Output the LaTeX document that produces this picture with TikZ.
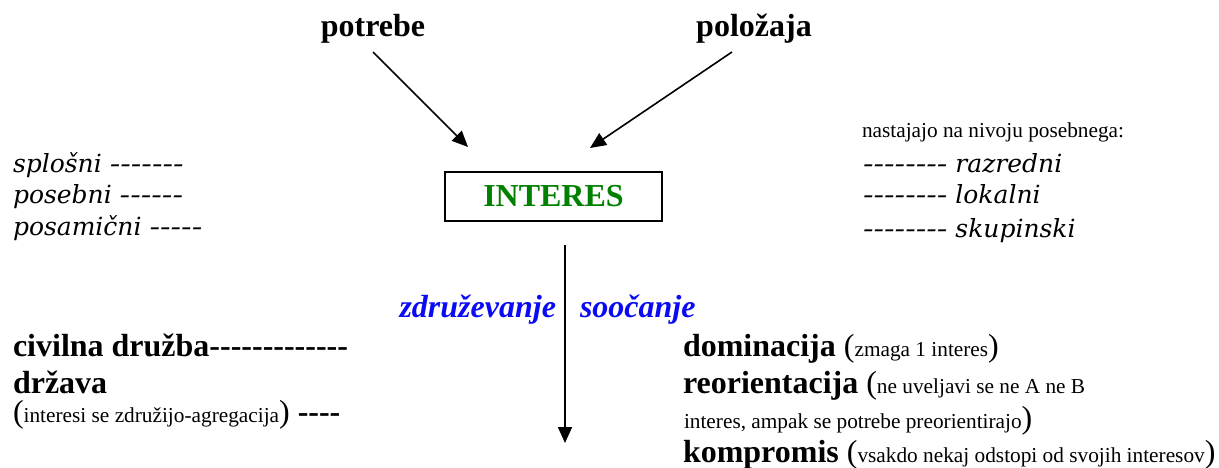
\documentclass[tikz,border=0pt]{standalone}
\usepackage{fontspec}
\setmainfont{Liberation Serif}[Ligatures=TeXOff]
\newfontfamily\dvs{DejaVu Serif}[Ligatures=TeXOff]
\usetikzlibrary{arrows.meta}
\definecolor{intgreen}{RGB}{0,128,0}
\definecolor{zblue}{RGB}{10,10,245}
\newcommand\szL{\fontsize{32}{38}\selectfont}
\newcommand\szS{\fontsize{21.3}{26}\selectfont}
\newcommand\szI{\dvs\itshape\fontsize{25}{32}\selectfont}
\newcommand\hyp[1]{\scalebox{1.25}[1]{#1}}
\begin{document}
\begin{tikzpicture}[x=1pt,y=-1pt,
  txt/.style={inner sep=0pt,outer sep=0pt,anchor=base west},
  arr/.style={line width=1.6pt,-{Triangle[length=16pt,width=14pt]}}]
\useasboundingbox (0,0) rectangle (1219,468);
% top
\node[txt,anchor=base] (potrebe) at (373,37) {\szL\bfseries potrebe};
\node[txt,anchor=base] (polozaja) at (754,37) {\szL\bfseries položaja};
\node[draw,line width=1.2pt,minimum width=217pt,minimum height=49pt,inner sep=0pt,
      text=intgreen,font=\szL\bfseries] (interes) at (553.5,196.5) {INTERES};
\coordinate (a1s) at (373,52);
\coordinate (a1e) at (468,147);
\coordinate (a2s) at (732,52);
\coordinate (a2e) at (590,148);
\draw[arr] (a1s) -- (a1e);
\draw[arr] (a2s) -- (a2e);
\coordinate (v1) at (565,245);
\coordinate (v2) at (565,443);
\draw[arr] (v1) -- (v2);
% blue labels
\node[txt,anchor=base east,text=zblue] (zdr) at (556,317) {\szL\bfseries\itshape združevanje};
\node[txt,text=zblue] (soo) at (580,317) {\szL\bfseries\itshape soočanje};
% left italic list
\node[txt] (spl) at (13,172) {\szI splošni \hyp{-------}};
\node[txt] (pos) at (13,204) {\szI posebni \hyp{------}};
\node[txt] (posam) at (13,236) {\szI posamični \hyp{-----}};
% right italic list
\node[txt] (nast) at (862,138) {\szS nastajajo na nivoju posebnega:};
\node[txt] (raz) at (863,172) {\szI \hyp{--------} razredni};
\node[txt] (lok) at (863,204) {\szI \hyp{--------} lokalni};
\node[txt] (sku) at (863,237) {\szI \hyp{--------} skupinski};
% left bottom
\node[txt] (civ) at (13,356) {\szL\bfseries civilna družba-------------};
\node[txt] (drz) at (13,393) {\szL\bfseries država};
\node[txt] (agr) at (13,422) {\szL(\szS interesi se združijo-agregacija\szL) \bfseries ----};
% right bottom
\node[txt] (dom) at (683,356) {\szL\bfseries dominacija \mdseries(\szS zmaga 1 interes\szL)};
\node[txt] (reo) at (683,393) {\szL\bfseries reorientacija \mdseries(\szS ne uveljavi se ne A ne B};
\node[txt] (reo2) at (684,428) {\szS interes, ampak se potrebe preorientirajo\szL)};
\node[txt] (kom) at (683,462) {\szL\bfseries kompromis \mdseries(\szS vsakdo nekaj odstopi od svojih interesov\szL)};
\end{tikzpicture}
\end{document}
